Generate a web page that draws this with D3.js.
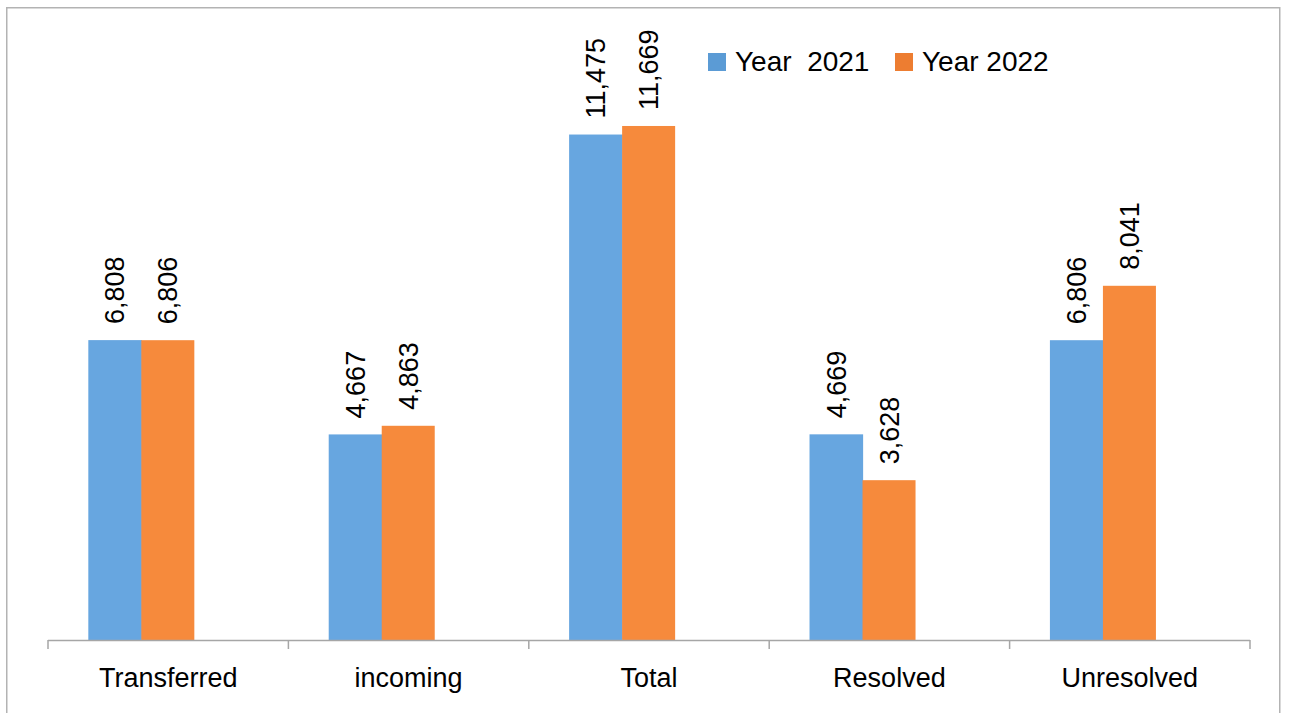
<!DOCTYPE html>
<html>
<head>
<meta charset="utf-8">
<script src="https://cdn.jsdelivr.net/npm/d3@7/dist/d3.min.js"></script>
<style>
html,body{margin:0;padding:0;background:#fff;}
svg{display:block;}
text{font-family:"Liberation Sans",Arial,sans-serif;fill:#000;}
</style>
</head>
<body>
<svg id="chart" width="1292" height="713"></svg>
<script>
const categories = ["Transferred", "incoming", "Total", "Resolved", "Unresolved"];
const seriesNames = ["Year  2021", "Year 2022"];
const values2021 = [6808, 4667, 11475, 4669, 6806];
const values2022 = [6806, 4863, 11669, 3628, 8041];
const colors = ["#67a6e0", "#f68a3c"];
const legendColors = ["#5b9bd5", "#ed7d31"];

const svg = d3.select("#chart");

// border
svg.append("rect").attr("x", 6.75).attr("y", 7.75).attr("width", 1273).attr("height", 740)
  .attr("fill", "none").attr("stroke", "#b3b3b3").attr("stroke-width", 1.5);

const x0 = 48, x1 = 1250, yBase = 640;
const x = d3.scaleBand().domain(categories).range([x0, x1]).paddingInner(0.559).paddingOuter(0.2795).align(0.3);
const sub = d3.scaleBand().domain([0, 1]).range([0, x.bandwidth()]);
const y = d3.scaleLinear().domain([0, 14000]).range([yBase, 23.3]);
const step = x.step();
const catCenter = i => x0 + step * (i + 0.5);

const series = [values2021, values2022];

// bars
series.forEach((vals, si) => {
  const g = svg.append("g");
  g.selectAll("rect").data(categories).join("rect")
    .attr("x", c => x(c) + sub(si))
    .attr("y", (c, i) => y(vals[i]))
    .attr("width", sub.bandwidth() + (si === 0 ? 0.6 : 0))
    .attr("height", (c, i) => yBase - y(vals[i]))
    .attr("fill", colors[si]);
  g.selectAll("text").data(categories).join("text")
    .attr("transform", (c, i) => `translate(${x(c) + sub(si) + sub.bandwidth() / 2 + 9.5},${y(vals[i]) - 16}) rotate(-90)`)
    .attr("text-anchor", "start")
    .attr("font-size", 27)
    .text((c, i) => d3.format(",")(vals[i]));
});

// axis
svg.append("line").attr("x1", x0).attr("x2", x1).attr("y1", yBase + 0.5).attr("y2", yBase + 0.5)
  .attr("stroke", "#a6a6a6").attr("stroke-width", 1.5);
d3.range(categories.length + 1).forEach(i => {
  const tx = x0 + i * step;
  svg.append("line").attr("x1", tx).attr("x2", tx).attr("y1", yBase).attr("y2", yBase + 9)
    .attr("stroke", "#a6a6a6").attr("stroke-width", 1.5);
});
svg.append("g").selectAll("text").data(categories).join("text")
  .attr("x", (c, i) => catCenter(i))
  .attr("y", 687)
  .attr("text-anchor", "middle")
  .attr("font-size", 27)
  .text(c => c);

// legend
const legendX = [708, 895];
seriesNames.forEach((n, i) => {
  svg.append("rect").attr("x", legendX[i]).attr("y", 53).attr("width", 18).attr("height", 18).attr("fill", legendColors[i]);
  svg.append("text").attr("x", legendX[i] + 27).attr("y", 71).attr("font-size", 28)
    .attr("xml:space", "preserve").style("white-space", "pre").text(n);
});
</script>
</body>
</html>
